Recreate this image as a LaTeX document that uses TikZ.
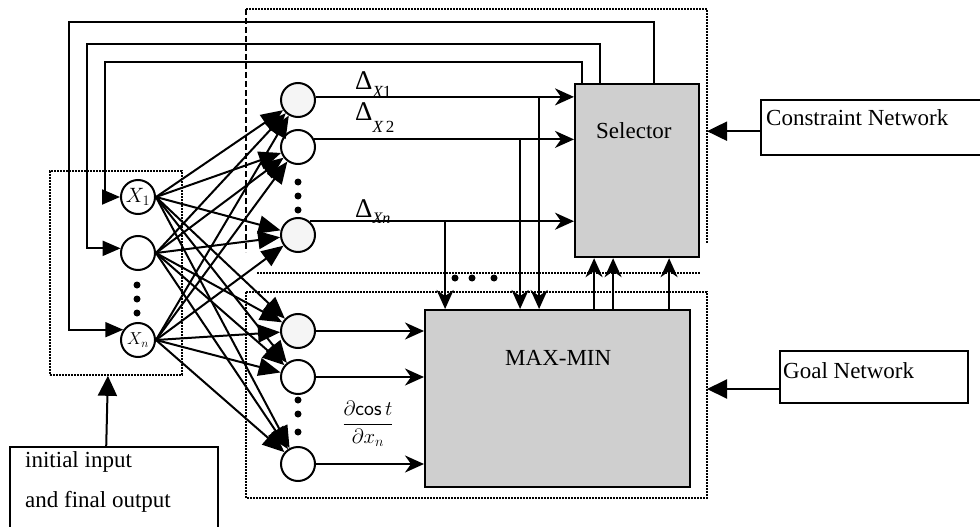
\documentclass[tikz,border=0pt]{standalone}
\usepackage{fontspec}
\setmainfont{Liberation Serif}
\usepackage{amsmath}
\usetikzlibrary{arrows.meta, positioning}

\begin{document}
\begin{tikzpicture}[
  x=1pt, y=-1pt,
  neuron/.style={circle, draw, line width=2pt, minimum size=34pt, inner sep=0pt, fill=white},
  block/.style={rectangle, draw, line width=2.2pt, fill=gray!38, anchor=north west, inner sep=0pt},
  netbox/.style={rectangle, anchor=north west, inner sep=0pt},
  txt/.style={font=\fontsize{23}{27}\selectfont, inner sep=0pt, anchor=base west},
  fan/.style={draw, line width=2pt, -{Triangle[length=22pt,width=18pt]}},
  sig/.style={draw, line width=2pt, -{Stealth[length=19pt,width=17pt,inset=6pt]}},
  feed/.style={draw, line width=2pt, -{Triangle[length=18pt,width=15pt]}},
  ext/.style={draw, line width=2pt, -{Triangle[length=20pt,width=19pt]}},
  region/.style={line width=1.8pt, dash pattern=on 1.8pt off 1.2pt},
  dot/.style={circle, fill, inner sep=0pt, minimum size=7pt},
]
  \useasboundingbox (0,0) rectangle (980,527);

  % dotted regions
  \draw[region] (246,9) -- (707,9) -- (707,243);
  \draw[line width=2.2pt, dash pattern=on 6pt off 3pt] (246,9) -- (246,252);
  \draw[region] (257,273) -- (700,273);
  \draw[region] (246,292) rectangle (707,498);
  \coordinate (ur) at (707,9);
  \node[netbox, draw, region, minimum width=132pt, minimum height=204pt] (inbox) at (49,170) {};

  % processing blocks
  \node[block, minimum width=124pt, minimum height=173pt] (sel) at (574,83) {};
  \node[block, minimum width=265pt, minimum height=177pt] (mm) at (424,309) {};
  \node[txt] (seltxt) at (596,138) {Selector};
  \node[txt] (mmtxt) at (505,365) {MAX-MIN};

  % input layer
  \node[neuron, font=\fontsize{21}{21}\selectfont] (x1) at (138,197) {$X_1$};
  \node[neuron] (x2) at (138,253) {};
  \node[neuron, font=\fontsize{18}{18}\selectfont] (xn) at (138,340) {$X_n$};
  \foreach \y [count=\i] in {285,299,313}
    \node[dot, name=ld\i] at (137,\y) {};

  % hidden layer
  \node[neuron, fill=gray!8] (r1) at (298,100) {};
  \node[neuron] (r2) at (298,147) {};
  \node[neuron, fill=gray!8] (r3) at (298,235) {};
  \node[neuron, fill=gray!8] (r4) at (298,331) {};
  \node[neuron] (r5) at (298,377) {};
  \node[neuron] (r6) at (298,464) {};
  \foreach \y [count=\i] in {182,196,210}
    \node[dot, name=ud\i] at (298,\y) {};
  \foreach \y [count=\i] in {400,414,432}
    \node[dot, name=bd\i] at (298,\y) {};

  \foreach \s in {x1,x2,xn}
    \foreach \t in {r1,r2,r3,r4,r5,r6}
      \draw[fan] (\s.east) -- (\t);

  % feedback from selector
  \coordinate (fo) at (69,22);
  \coordinate (fm) at (87,44);
  \coordinate (fi) at (105,62);
  \draw[feed] ([xshift=17pt]sel.north) |- (fo) |- (xn.145);
  \draw[feed] ([xshift=-37pt]sel.north) |- (fm) |- (x2.165);
  \draw[feed] ([xshift=-55pt]sel.north) |- (fi) |- (x1.west);

  % delta signals
  \draw[sig] (r1.10) -- (r1.10 -| sel.west);
  \draw[sig] (r2.25) -- (r2.25 -| sel.west);
  \draw[sig] (r3.50) -- (r3.50 -| sel.west);
  \node[inner sep=0pt, anchor=base west] (dl1) at (355,89)
    {{\fontsize{27}{27}\selectfont Δ}\raisebox{-8pt}{\fontsize{17}{17}\selectfont\itshape X\upshape 1}};
  \node[inner sep=0pt, anchor=base west] (dl2) at (355,120)
    {{\fontsize{27}{27}\selectfont Δ}\raisebox{-13pt}{\fontsize{17}{17}\selectfont\itshape X\upshape\,2}};
  \node[inner sep=0pt, anchor=base west] (dl3) at (355,217)
    {{\fontsize{27}{27}\selectfont Δ}\raisebox{-6pt}{\fontsize{16}{16}\selectfont\itshape Xn}};

  % branches down into MAX-MIN
  \coordinate (b1) at ([xshift=-18.5pt]mm.north);
  \coordinate (b2) at ([xshift=-37.5pt]mm.north);
  \coordinate (b3) at ([xshift=-112.5pt]mm.north);
  \draw[sig] (b1 |- r1.10) -- (b1);
  \draw[sig] (b2 |- r2.25) -- (b2);
  \draw[sig] (b3 |- r3.50) -- (b3);
  \foreach \x [count=\i] in {455,472,494}
    \node[dot, name=md\i] at (\x,278) {};

  % MAX-MIN up to selector
  \foreach \d [count=\i] in {36.5,55.5,111.5} {
    \coordinate (u\i) at ([xshift=\d pt]mm.north);
    \draw[sig] (u\i) -- (u\i |- sel.south);
  }

  % gradient signals
  \draw[sig] (r4.east) -- (r4.east -| mm.west);
  \draw[sig] (r5.east) -- (r5.east -| mm.west);
  \draw[sig] (r6.east) -- (r6.east -| mm.west);
  \node[inner sep=0pt] (grad) at (368,424)
    {\fontsize{21}{25}\selectfont$\dfrac{\partial\mathsf{cos}\,t}{\partial x_n}$};

  % outside networks
  \node[netbox, minimum width=225pt, minimum height=55pt] (cn) at (761,100) {};
  \draw[line width=2pt] (cn.north east) -- (cn.north west) -- (cn.south west) -- (cn.south east);
  \node[txt] (cntxt) at (766,125) {Constraint Network};
  \draw[ext] ([yshift=-3.5pt]cn.west) -- ([yshift=-3.5pt]cn.west -| ur);

  \node[netbox, draw, line width=2pt, minimum width=188pt, minimum height=52pt] (gn) at (779,350) {};
  \node[txt] (gntxt) at (783,378) {Goal Network};
  \draw[ext] ([yshift=-12pt]gn.west) -- ([yshift=-12pt]gn.west -| ur);

  % initial input / final output
  \node[netbox, minimum width=208pt, minimum height=100pt] (io) at (10,447) {};
  \draw[line width=2pt] (io.south west) -- (io.north west) -- (io.north east) -- (io.south east);
  \node[txt] (iotxt1) at (25,467) {initial input};
  \node[txt] (iotxt2) at (25,507) {and final output};
  \draw[ext] ([xshift=-8pt]io.north) -- ([xshift=-8pt]inbox.south);
\end{tikzpicture}
\end{document}
